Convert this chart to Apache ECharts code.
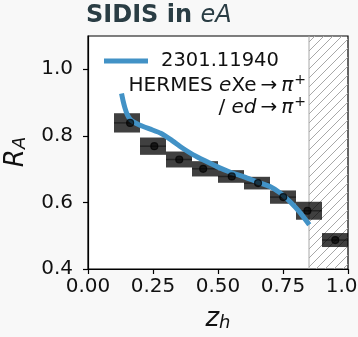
<!DOCTYPE html>
<html><head><meta charset="utf-8">
<script src="https://cdn.jsdelivr.net/npm/echarts@6/dist/echarts.min.js"></script>
<style>html,body{margin:0;padding:0;background:#f8f8f8}#c{width:358px;height:337px}</style>
</head><body><div id="c"></div>
<script>
// ---- data ----
const binLo = [0.1, 0.2, 0.3, 0.4, 0.5, 0.6, 0.7, 0.8, 0.9];
const binHi = [0.2, 0.3, 0.4, 0.5, 0.6, 0.7, 0.8, 0.9, 1.0];
const zCenters = [0.162, 0.255, 0.351, 0.443, 0.553, 0.654, 0.751, 0.844, 0.951];
const RA = [0.839, 0.769, 0.729, 0.701, 0.678, 0.658, 0.616, 0.575, 0.487];
const RAerr = [0.029, 0.026, 0.024, 0.023, 0.019, 0.019, 0.020, 0.027, 0.021];
const curveZ = [0.129, 0.135, 0.142, 0.150, 0.160, 0.175, 0.200, 0.240, 0.280, 0.320, 0.360, 0.405, 0.450, 0.500, 0.550, 0.600, 0.650, 0.700, 0.740, 0.780, 0.815, 0.851];
const curveRA = [0.927, 0.905, 0.884, 0.866, 0.852, 0.842, 0.832, 0.820, 0.808, 0.788, 0.765, 0.743, 0.725, 0.706, 0.690, 0.677, 0.662, 0.648, 0.628, 0.600, 0.570, 0.533];
const excluded = [[0.85, 1.0]];
const xTicks = [0, 0.25, 0.5, 0.75, 1.0];
const yTicks = [0.4, 0.6, 0.8, 1.0];
const legendCurve = '2301.11940';

// hatch pattern
const pc = document.createElement('canvas');
pc.width = 9; pc.height = 9;
const g = pc.getContext('2d');
g.strokeStyle = '#a8a8a8'; g.lineWidth = 1;
g.beginPath();
g.moveTo(0, 9); g.lineTo(9, 0);
g.moveTo(-4.5, 4.5); g.lineTo(4.5, -4.5);
g.moveTo(4.5, 13.5); g.lineTo(13.5, 4.5);
g.stroke();

const chart = echarts.init(document.getElementById('c'), null, {renderer: 'canvas'});
const boxData = zCenters.map((z, i) => [binLo[i], binHi[i], RA[i], RAerr[i]]);
const FONT = 'DejaVu Sans';
chart.setOption({
  backgroundColor: '#f8f8f8',
  animation: false,
  grid: {left: 88, right: 10, top: 36, bottom: 68, show: true, backgroundColor: '#ffffff', borderColor: '#000', borderWidth: 1.2,
         containLabel: false, outerBoundsMode: 'none'},
  xAxis: {
    type: 'value', min: 0, max: 1, interval: 0.25,
    axisLine: {lineStyle: {color: '#000', width: 1.2}},
    axisTick: {show: true, length: 5, lineStyle: {color: '#000', width: 1.2}},
    splitLine: {show: false},
    axisLabel: {fontFamily: FONT, fontSize: 20, color: '#111', margin: 8, hideOverlap: false,
      formatter: v => xTicks.some(t => Math.abs(t - v) < 1e-6) ? v.toFixed(2) : ''}
  },
  yAxis: {
    type: 'value', min: 0.4, max: 1.1, interval: 0.2,
    axisLine: {lineStyle: {color: '#000', width: 1.2}},
    axisTick: {show: true, length: 5, lineStyle: {color: '#000', width: 1.2}},
    splitLine: {show: false},
    axisLabel: {fontFamily: FONT, fontSize: 20, color: '#111', margin: 15, showMaxLabel: false,
      formatter: v => yTicks.some(t => Math.abs(t - v) < 1e-6) ? v.toFixed(1) : ''}
  },
  series: [
    {
      type: 'custom', z: 1, silent: true,
      data: excluded,
      renderItem: (params, api) => {
        const p0 = api.coord([api.value(0), 1.1]);
        const p1 = api.coord([api.value(1), 0.4]);
        return {type: 'group', children: [
          {type: 'rect', shape: {x: p0[0], y: p0[1], width: p1[0] - p0[0], height: p1[1] - p0[1]},
           style: {fill: {image: pc, repeat: 'repeat'}, stroke: null}},
          {type: 'line', shape: {x1: p0[0], y1: p0[1], x2: p0[0], y2: p1[1]}, style: {stroke: '#a8a8a8', lineWidth: 1}}
        ]};
      }
    },
    {
      type: 'custom', z: 2, silent: true,
      data: boxData,
      renderItem: (params, api) => {
        const lo = api.value(0), hi = api.value(1), y = api.value(2), e = api.value(3);
        const a = api.coord([lo, y + e]);
        const b = api.coord([hi, y - e]);
        const c1 = api.coord([lo, y]);
        const c2 = api.coord([hi, y]);
        return {type: 'group', children: [
          {type: 'rect', shape: {x: a[0], y: a[1], width: b[0] - a[0], height: b[1] - a[1]}, style: {fill: 'rgba(0,0,0,0.75)'}},
          {type: 'line', shape: {x1: c1[0], y1: c1[1], x2: c2[0], y2: c2[1]}, style: {stroke: 'rgba(0,0,0,0.45)', lineWidth: 1.5}}
        ]};
      }
    },
    {
      type: 'line', z: 3, silent: true, smooth: 0.15, showSymbol: false,
      data: curveZ.map((z, i) => [z, curveRA[i]]),
      lineStyle: {color: '#4292c6', width: 5, cap: 'butt', join: 'round'}
    },
    {
      type: 'scatter', z: 4, silent: true, symbolSize: 7,
      data: zCenters.map((z, i) => [z, RA[i]]),
      itemStyle: {color: 'rgba(0,0,0,0.8)', borderColor: 'rgba(0,0,0,0.9)', borderWidth: 1.2}
    }
  ],
  graphic: [
    {type: 'text', left: 86, top: 4, z: 10,
     style: {text: '{b|SIDIS in }{i|eA}', rich: {
       b: {fontFamily: FONT, fontWeight: 'bold', fontSize: 24, fill: '#2a3d44'},
       i: {fontFamily: FONT, fontStyle: 'italic', fontSize: 24, fill: '#2a3d44'}}}},
    {type: 'line', z: 10, shape: {x1: 104, y1: 61, x2: 148, y2: 61}, style: {stroke: '#4292c6', lineWidth: 5}},
    {type: 'text', z: 10, x: 161, y: 61,
     style: {text: legendCurve, fontFamily: FONT, fontSize: 19.5, fill: '#111', textVerticalAlign: 'middle'}},
    {type: 'text', z: 10, x: 306, y: 86,
     style: {text: '{r|HERMES }{i|e}{r|Xe}{r|\u2009\u2192\u2009}{i|π}{s|+}', textAlign: 'right', textVerticalAlign: 'middle',
       rich: {r: {fontFamily: FONT, fontSize: 20, fill: '#111'}, i: {fontFamily: FONT, fontStyle: 'italic', fontSize: 20, fill: '#111'},
              s: {fontFamily: FONT, fontSize: 14, fill: '#111', padding: [0, 0, 12, 1]}}}},
    {type: 'text', z: 10, x: 306, y: 108,
     style: {text: '{r|/ }{i|ed}{r|\u2009\u2192\u2009}{i|π}{s|+}', textAlign: 'right', textVerticalAlign: 'middle',
       rich: {r: {fontFamily: FONT, fontSize: 20, fill: '#111'}, i: {fontFamily: FONT, fontStyle: 'italic', fontSize: 20, fill: '#111'},
              s: {fontFamily: FONT, fontSize: 14, fill: '#111', padding: [0, 0, 12, 1]}}}},
    {type: 'text', z: 10, x: 16, y: 152, rotation: Math.PI / 2,
     style: {text: '{i|R}{s|A}', textAlign: 'center', textVerticalAlign: 'middle',
       rich: {i: {fontFamily: FONT, fontStyle: 'italic', fontSize: 26, fill: '#111'},
              s: {fontFamily: FONT, fontStyle: 'italic', fontSize: 18, fill: '#111', padding: [8, 0, 0, 0]}}}},
    {type: 'text', z: 10, x: 218, y: 319,
     style: {text: '{i|z}{s|h}', textAlign: 'center', textVerticalAlign: 'middle',
       rich: {i: {fontFamily: FONT, fontStyle: 'italic', fontSize: 26, fill: '#111'},
              s: {fontFamily: FONT, fontStyle: 'italic', fontSize: 18, fill: '#111', padding: [8, 0, 0, 0]}}}}
  ]
});
</script></body></html>
